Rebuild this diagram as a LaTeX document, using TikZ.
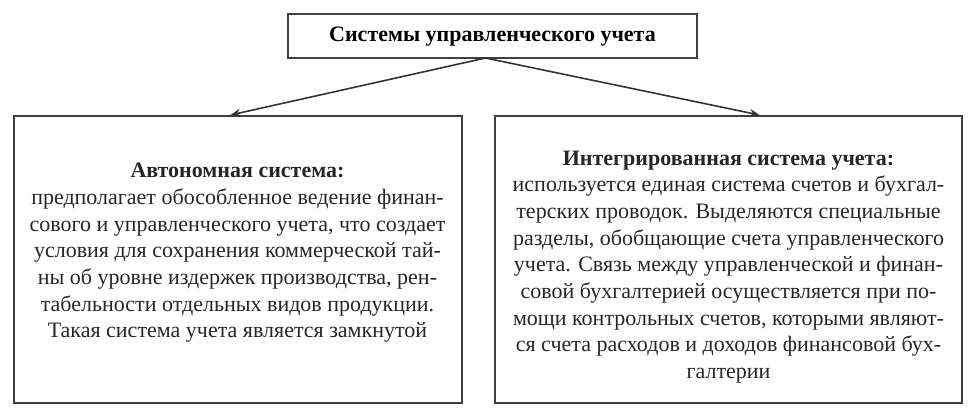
\documentclass[tikz,border=0pt]{standalone}
\usepackage{fontspec}
\setmainfont{Liberation Serif}
\usetikzlibrary{arrows.meta}
\tikzset{
  frame/.style={draw=black!75, line width=2pt, inner sep=0pt},
  body/.style={align=center, text=black!85, font=\fontsize{22}{26.7}\selectfont, inner sep=0pt},
  conn/.style={draw=black!80, line width=1.6pt, -{Stealth[length=10pt,width=8pt]}}
}
\begin{document}
\begin{tikzpicture}[x=1pt,y=-1pt]
\useasboundingbox (0,0) rectangle (975,417);
\node[frame, minimum width=409pt, minimum height=44pt] (top) at (492.5,36) {};
\node[body, font=\fontsize{22}{24}\selectfont\bfseries, text=black] (toptext) at (492.5,37) {Системы управленческого учета};
\node[frame, minimum width=448pt, minimum height=287pt] (L) at (237.5,259.5) {};
\node[frame, minimum width=467pt, minimum height=287pt] (R) at (728.5,259.5) {};
\node[body] (Ltext) at (237.5,253) {\textbf{Автономная система:}\\
предполагает обособленное ведение финан-\\
сового и управленческого учета, что создает\\
условия для сохранения коммерческой тай-\\
ны об уровне издержек производства, рен-\\
табельности отдельных видов продукции.\\
Такая система учета является замкнутой};
\node[body] (Rtext) at (728.5,267) {\textbf{Интегрированная система учета:}\\
используется единая система счетов и бухгал-\\
терских проводок. Выделяются специальные\\
разделы, обобщающие счета управленческого\\
учета. Связь между управленческой и финан-\\
совой бухгалтерией осуществляется при по-\\
мощи контрольных счетов, которыми являют-\\
ся счета расходов и доходов финансовой бух-\\
галтерии};
\draw[conn] ([xshift=-7pt,yshift=1pt]top.south) -- ([xshift=-7pt]L.north);
\draw[conn] ([xshift=-7pt,yshift=1pt]top.south) -- ([xshift=31pt]R.north);
\end{tikzpicture}
\end{document}
